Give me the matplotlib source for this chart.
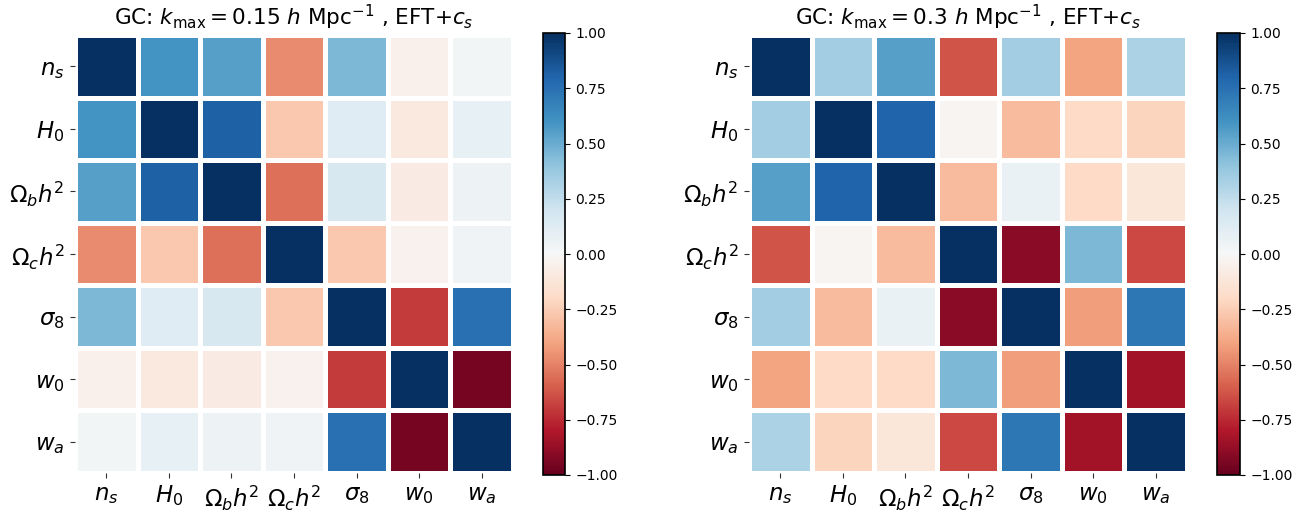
import matplotlib
matplotlib.use("Agg")
import matplotlib.pyplot as plt
import numpy as np

params = [r'$n_s$', r'$H_0$', r'$\Omega_b h^2$', r'$\Omega_c h^2$',
          r'$\sigma_8$', r'$w_0$', r'$w_a$']

titles = [r'GC: $k_{\rm max}=0.15\ h\ {\rm Mpc}^{-1}$ , EFT+$c_s$',
          r'GC: $k_{\rm max}=0.3\ h\ {\rm Mpc}^{-1}$ , EFT+$c_s$']

cbar_ticks = [-1, -0.75, -0.5, -0.25, 0, 0.25, 0.5, 0.75, 1]

# correlation matrices, kmax = 0.15
corr_015 = [
    [1.00, 0.60, 0.55, -0.47, 0.45, -0.05, 0.03],
    [0.60, 1.00, 0.82, -0.27, 0.12, -0.10, 0.08],
    [0.55, 0.82, 1.00, -0.55, 0.17, -0.08, 0.05],
    [-0.47, -0.27, -0.55, 1.00, -0.27, -0.04, 0.04],
    [0.45, 0.12, 0.17, -0.27, 1.00, -0.70, 0.75],
    [-0.05, -0.10, -0.08, -0.04, -0.70, 1.00, -0.96],
    [0.03, 0.08, 0.05, 0.04, 0.75, -0.96, 1.00],
]

# kmax = 0.3
corr_03 = [
    [1.00, 0.35, 0.55, -0.63, 0.35, -0.40, 0.32],
    [0.35, 1.00, 0.80, -0.02, -0.32, -0.20, -0.22],
    [0.55, 0.80, 1.00, -0.32, 0.07, -0.20, -0.12],
    [-0.63, -0.02, -0.32, 1.00, -0.90, 0.45, -0.66],
    [0.35, -0.32, 0.07, -0.90, 1.00, -0.42, 0.72],
    [-0.40, -0.20, -0.20, 0.45, -0.42, 1.00, -0.84],
    [0.32, -0.22, -0.12, -0.66, 0.72, -0.84, 1.00],
]

W, H = 1314, 512
fig = plt.figure(figsize=(W / 100, H / 100), dpi=100)


def px_box(x0, y0, w, h):
    # pixel box measured from top-left -> figure fraction
    return [x0 / W, (H - y0 - h) / H, w / W, h / H]


layout = [
    (px_box(75, 35, 438, 438), px_box(543, 33, 22, 442)),
    (px_box(749, 35, 438, 438), px_box(1217, 33, 23, 442)),
]

for corr, title, (hbox, cbox) in zip([corr_015, corr_03], titles, layout):
    ax = fig.add_axes(hbox)
    cax = fig.add_axes(cbox)
    mat = np.array(corr)
    n = len(params)
    mesh = ax.pcolormesh(np.arange(n + 1), np.arange(n + 1), mat,
                         cmap='RdBu', vmin=-1, vmax=1,
                         edgecolors='white', linewidth=2.2)
    ax.set_xlim(0, n)
    ax.set_ylim(n, 0)
    ax.set_xticks(np.arange(n) + 0.5)
    ax.set_yticks(np.arange(n) + 0.5)
    ax.set_xticklabels(params, fontsize=16.5)
    ax.set_yticklabels(params, fontsize=16.5)
    for s in ax.spines.values():
        s.set_visible(False)
    ax.tick_params(length=3.5, width=0.8, color='#333333', pad=4)
    ax.set_title(title, fontsize=15.5, pad=7)

    cb = fig.colorbar(mesh, cax=cax)
    cb.set_ticks(cbar_ticks)
    cb.ax.set_yticklabels(['%.2f' % t if t >= 0 else '\u2212%.2f' % abs(t)
                           for t in cbar_ticks])
    cb.ax.tick_params(labelsize=10, length=3.5, pad=4)
    cb.outline.set_linewidth(1.2)

fig.savefig('out.png', dpi=100)
